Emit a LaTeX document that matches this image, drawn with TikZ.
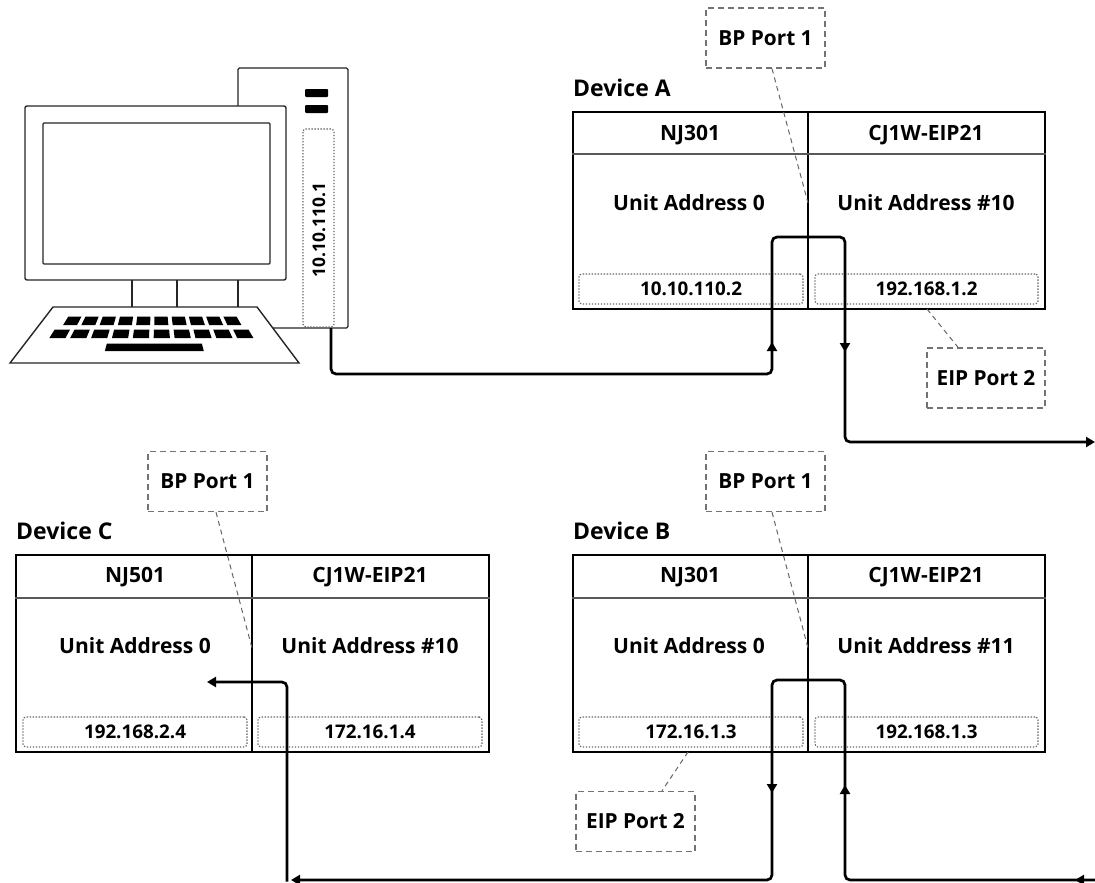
\documentclass[tikz,border=0pt]{standalone}
\usepackage{fontspec}
\setmainfont{Open Sans}
\usetikzlibrary{arrows.meta}
\newcommand\txtf{\fontsize{21}{25}\selectfont\bfseries}
\newcommand\devf{\fontsize{23}{27}\selectfont\bfseries}
\newcommand\portf{\fontsize{20.8}{25}\selectfont\bfseries}
\newcommand\ipf{\fontsize{18.8}{22}\selectfont\bfseries}
\newcommand\pcipf{\fontsize{17.4}{21}\selectfont\bfseries}
\begin{document}
\begin{tikzpicture}[x=1pt,y=-1pt,
  dev/.style={draw=black,line width=1.8pt,inner sep=0pt,minimum height=197pt},
  hdr/.style={draw=black!65,line width=1.6pt},
  dots/.style={draw=black!60,line width=1.2pt,dash pattern=on 1.3pt off 1.7pt,rounded corners=3pt},
  ipbox/.style={dots,inner sep=0pt,minimum width=224pt,minimum height=30pt,font=\ipf},
  port/.style={draw=black!55,line width=1.4pt,dash pattern=on 6pt off 4pt,inner sep=0pt,minimum width=119pt,minimum height=60pt,font=\portf},
  leader/.style={draw=black!60,line width=1pt,dash pattern=on 5pt off 4pt},
  cable/.style={draw=black,line width=2.7pt,rounded corners=5pt},
  tip/.style={-{Triangle[length=9pt,width=10pt]}},
  txt/.style={font=\txtf,inner sep=0pt},
  devlbl/.style={font=\devf,anchor=west,inner sep=0pt},
  pc/.style={draw=black!85,line width=1.4pt,fill=white}
]
\useasboundingbox (0,0) rectangle (1095,883);
\fill[white] (0,0) rectangle (1095,883);

% ---------------- PC ----------------
\draw[pc,rounded corners=1.5pt] (238,68) rectangle (348,328);
\fill[black,rounded corners=1pt] (305,89) rectangle (328,97);
\fill[black,rounded corners=1pt] (305,105) rectangle (328,113);
\draw[dots] (303,129) rectangle (334,327);
\node[font=\pcipf,rotate=90,inner sep=0pt] (pcip) at (319,230) {10.10.110.1};
\draw[pc,rounded corners=2pt] (25,106) rectangle (286,280);
\draw[pc,rounded corners=1pt] (43,123) rectangle (270,264);
\foreach \sx in {132,177,238} \draw[pc] (\sx,280) -- (\sx,307);
\draw[pc] (53,307) -- (257,307) -- (299,363) -- (10,363) -- cycle;
\foreach \i in {0,...,9} {
  \pgfmathsetmacro\ua{-0.79+\i*0.157}
  \pgfmathsetmacro\ub{\ua+0.12}
  \fill[black] ({155+\ua*109.7},316.5) -- ({155+\ub*109.7},316.5) -- ({155+\ub*116.3},325) -- ({155+\ua*116.3},325) -- cycle;
  \pgfmathsetmacro\va{-0.83+\i*0.164}
  \pgfmathsetmacro\vb{\va+0.127}
  \fill[black] ({155+\va*120.8},329.5) -- ({155+\vb*120.8},329.5) -- ({155+\vb*127.3},338) -- ({155+\va*127.3},338) -- cycle;
}
\fill[black] ({155-0.37*130.1},343.5) -- ({155+0.36*130.1},343.5) -- ({155+0.36*135.5},351) -- ({155-0.37*135.5},351) -- cycle;
\coordinate (pcout) at (331,328);

% ---------------- Device A ----------------
\node[devlbl] (devA) at (573,88) {Device A};
\node[dev,minimum width=235pt] (Al) at (690.5,210.5) {};
\node[dev,minimum width=237pt] (Ar) at (926.5,210.5) {};
\draw[hdr] (Al.west |- 0,154) -- (Ar.east |- 0,154);
\node[txt] (Alt) at (690,135) {NJ301};
\node[txt] (Art) at (926,135) {CJ1W-EIP21};
\node[txt] (Alu) at (689,203) {Unit Address 0};
\node[txt] (Aru) at (926,203) {Unit Address \#10};
\node[ipbox] (Alip) at (691,289) {10.10.110.2};
\node[ipbox,minimum width=223pt] (Arip) at (926.5,289) {192.168.1.2};
\node[port] (bpA) at (765.5,38) {BP Port 1};
\node[port,minimum width=118pt] (eipA) at (986,378) {EIP Port 2};
\draw[leader] ([xshift=6.5pt]bpA.south) -- (808,203);
\draw[leader] (927,309) -- ([xshift=-28pt]eipA.north);

% ---------------- Device B ----------------
\node[devlbl] (devB) at (573,531) {Device B};
\node[dev,minimum width=235pt] (Bl) at (690.5,653.5) {};
\node[dev,minimum width=237pt] (Br) at (926.5,653.5) {};
\draw[hdr] (Bl.west |- 0,598) -- (Br.east |- 0,598);
\node[txt] (Blt) at (690,577) {NJ301};
\node[txt] (Brt) at (926,577) {CJ1W-EIP21};
\node[txt] (Blu) at (689,646) {Unit Address 0};
\node[txt] (Bru) at (926,646) {Unit Address \#11};
\node[ipbox] (Blip) at (691,732) {172.16.1.3};
\node[ipbox,minimum width=223pt] (Brip) at (926.5,732) {192.168.1.3};
\node[port] (bpB) at (765.5,481.5) {BP Port 1};
\node[port] (eipB) at (635.5,821.5) {EIP Port 2};
\draw[leader] ([xshift=6.5pt]bpB.south) -- (808,648);
\draw[leader] (688,752) -- ([xshift=26.5pt]eipB.north);

% ---------------- Device C ----------------
\node[devlbl] (devC) at (16,531) {Device C};
\node[dev,minimum width=236pt] (Cl) at (134,653.5) {};
\node[dev,minimum width=237pt] (Cr) at (370.5,653.5) {};
\draw[hdr] (Cl.west |- 0,598) -- (Cr.east |- 0,598);
\node[txt] (Clt) at (135,577) {NJ501};
\node[txt] (Crt) at (370,577) {CJ1W-EIP21};
\node[txt] (Clu) at (135,646) {Unit Address 0};
\node[txt] (Cru) at (370,646) {Unit Address \#10};
\node[ipbox] (Clip) at (135,732) {192.168.2.4};
\node[ipbox] (Crip) at (370,732) {172.16.1.4};
\node[port] (bpC) at (207.5,481.5) {BP Port 1};
\draw[leader] ([xshift=8.5pt]bpC.south) -- (252,648);

% ---------------- Cables ----------------
\coordinate (outA) at (1095,442);
\coordinate (inB) at (1095,880);
\coordinate (endB) at (291,880);
\coordinate (cTurn) at (287,881.5);
\coordinate (cEnd) at (207,682);
\draw[cable,tip] (pcout) -- (331,374) -- (772,374) -- (772,237) -- (845,237) -- (845,442) -- (outA);
\draw[cable,tip] (772,353) -- (772,342);
\draw[cable,tip] (845,341) -- (845,352);

\draw[cable,tip] (inB) -- (845,880) -- (845,680) -- (772,680) -- (772,880) -- (endB);
\draw[cable,tip] (1089,880) -- (1075,880);
\draw[cable,tip] (772,782) -- (772,793);
\draw[cable,tip] (845,796) -- (845,785);
\draw[cable,tip] (cTurn) -- (287,682) -- (cEnd);
\end{tikzpicture}
\end{document}
